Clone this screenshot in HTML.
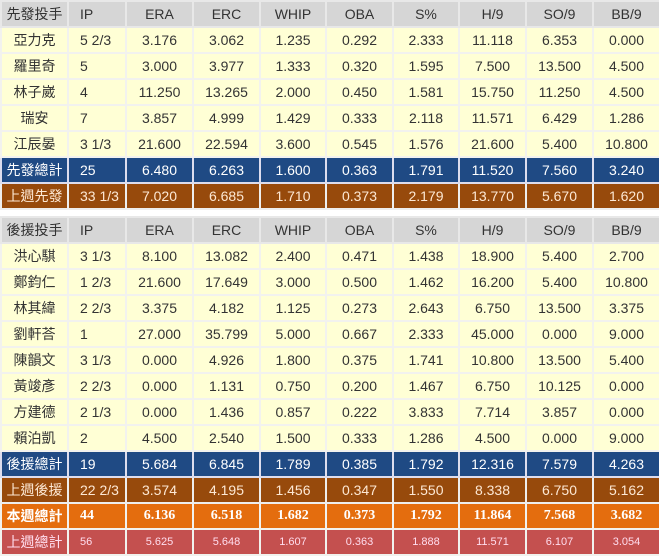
<!DOCTYPE html>
<html><head><meta charset="utf-8"><style>
body{margin:0;background:#fff;width:659px;height:553px;overflow:hidden;font-family:"Liberation Sans","Noto Sans CJK TC",sans-serif;}
table{position:absolute;left:0;width:659px;border-collapse:collapse;table-layout:fixed;font-size:14px;color:#333;}
td{border:2px solid #f2f2ee;height:24px;padding:0;text-align:center;white-space:nowrap;}
td:nth-child(2){text-align:left;padding-left:11px;}
tr.h td{background:#d6d6d6;color:#333;border-color:#e8e8e8}
tr.d td{background:#ffffd5;}
tr.b td{background:#1f4a84;color:#fff;border-color:#dde}
tr.r td{background:#974a0c;color:#fde8d4;border-color:#eee}
tr.o td{background:#e46d0e;color:#fff;font-weight:bold;font-family:"Liberation Serif","Noto Serif CJK SC",serif;}
tr.o td:first-child{font-family:"Liberation Sans","Noto Sans CJK TC",sans-serif}
tr.p td{background:#c4504f;color:#fde;font-size:11px;font-family:"Liberation Sans Narrow","Liberation Sans","Noto Sans CJK TC",sans-serif;}
tr.p td:first-child{font-size:14px}
</style></head><body>
<table style="top:0">
<colgroup><col style="width:67px"><col style="width:58px"><col style="width:67px"><col style="width:67px"><col style="width:66px"><col style="width:67px"><col style="width:66px"><col style="width:67px"><col style="width:67px"><col style="width:67px"></colgroup>
<tr class="h"><td>先發投手</td><td>IP</td><td>ERA</td><td>ERC</td><td>WHIP</td><td>OBA</td><td>S%</td><td>H/9</td><td>SO/9</td><td>BB/9</td></tr>
<tr class="d"><td>亞力克</td><td>5 2/3</td><td>3.176</td><td>3.062</td><td>1.235</td><td>0.292</td><td>2.333</td><td>11.118</td><td>6.353</td><td>0.000</td></tr>
<tr class="d"><td>羅里奇</td><td>5</td><td>3.000</td><td>3.977</td><td>1.333</td><td>0.320</td><td>1.595</td><td>7.500</td><td>13.500</td><td>4.500</td></tr>
<tr class="d"><td>林子崴</td><td>4</td><td>11.250</td><td>13.265</td><td>2.000</td><td>0.450</td><td>1.581</td><td>15.750</td><td>11.250</td><td>4.500</td></tr>
<tr class="d"><td>瑞安</td><td>7</td><td>3.857</td><td>4.999</td><td>1.429</td><td>0.333</td><td>2.118</td><td>11.571</td><td>6.429</td><td>1.286</td></tr>
<tr class="d"><td>江辰晏</td><td>3 1/3</td><td>21.600</td><td>22.594</td><td>3.600</td><td>0.545</td><td>1.576</td><td>21.600</td><td>5.400</td><td>10.800</td></tr>
<tr class="b"><td>先發總計</td><td>25</td><td>6.480</td><td>6.263</td><td>1.600</td><td>0.363</td><td>1.791</td><td>11.520</td><td>7.560</td><td>3.240</td></tr>
<tr class="r"><td>上週先發</td><td>33 1/3</td><td>7.020</td><td>6.685</td><td>1.710</td><td>0.373</td><td>2.179</td><td>13.770</td><td>5.670</td><td>1.620</td></tr>
</table>
<table style="top:216px">
<colgroup><col style="width:67px"><col style="width:58px"><col style="width:67px"><col style="width:67px"><col style="width:66px"><col style="width:67px"><col style="width:66px"><col style="width:67px"><col style="width:67px"><col style="width:67px"></colgroup>
<tr class="h"><td>後援投手</td><td>IP</td><td>ERA</td><td>ERC</td><td>WHIP</td><td>OBA</td><td>S%</td><td>H/9</td><td>SO/9</td><td>BB/9</td></tr>
<tr class="d"><td>洪心騏</td><td>3 1/3</td><td>8.100</td><td>13.082</td><td>2.400</td><td>0.471</td><td>1.438</td><td>18.900</td><td>5.400</td><td>2.700</td></tr>
<tr class="d"><td>鄭鈞仁</td><td>1 2/3</td><td>21.600</td><td>17.649</td><td>3.000</td><td>0.500</td><td>1.462</td><td>16.200</td><td>5.400</td><td>10.800</td></tr>
<tr class="d"><td>林其緯</td><td>2 2/3</td><td>3.375</td><td>4.182</td><td>1.125</td><td>0.273</td><td>2.643</td><td>6.750</td><td>13.500</td><td>3.375</td></tr>
<tr class="d"><td>劉軒荅</td><td>1</td><td>27.000</td><td>35.799</td><td>5.000</td><td>0.667</td><td>2.333</td><td>45.000</td><td>0.000</td><td>9.000</td></tr>
<tr class="d"><td>陳韻文</td><td>3 1/3</td><td>0.000</td><td>4.926</td><td>1.800</td><td>0.375</td><td>1.741</td><td>10.800</td><td>13.500</td><td>5.400</td></tr>
<tr class="d"><td>黃竣彥</td><td>2 2/3</td><td>0.000</td><td>1.131</td><td>0.750</td><td>0.200</td><td>1.467</td><td>6.750</td><td>10.125</td><td>0.000</td></tr>
<tr class="d"><td>方建德</td><td>2 1/3</td><td>0.000</td><td>1.436</td><td>0.857</td><td>0.222</td><td>3.833</td><td>7.714</td><td>3.857</td><td>0.000</td></tr>
<tr class="d"><td>賴泊凱</td><td>2</td><td>4.500</td><td>2.540</td><td>1.500</td><td>0.333</td><td>1.286</td><td>4.500</td><td>0.000</td><td>9.000</td></tr>
<tr class="b"><td>後援總計</td><td>19</td><td>5.684</td><td>6.845</td><td>1.789</td><td>0.385</td><td>1.792</td><td>12.316</td><td>7.579</td><td>4.263</td></tr>
<tr class="r"><td>上週後援</td><td>22 2/3</td><td>3.574</td><td>4.195</td><td>1.456</td><td>0.347</td><td>1.550</td><td>8.338</td><td>6.750</td><td>5.162</td></tr>
<tr class="o"><td>本週總計</td><td>44</td><td>6.136</td><td>6.518</td><td>1.682</td><td>0.373</td><td>1.792</td><td>11.864</td><td>7.568</td><td>3.682</td></tr>
<tr class="p"><td>上週總計</td><td>56</td><td>5.625</td><td>5.648</td><td>1.607</td><td>0.363</td><td>1.888</td><td>11.571</td><td>6.107</td><td>3.054</td></tr>
</table>
</body></html>
